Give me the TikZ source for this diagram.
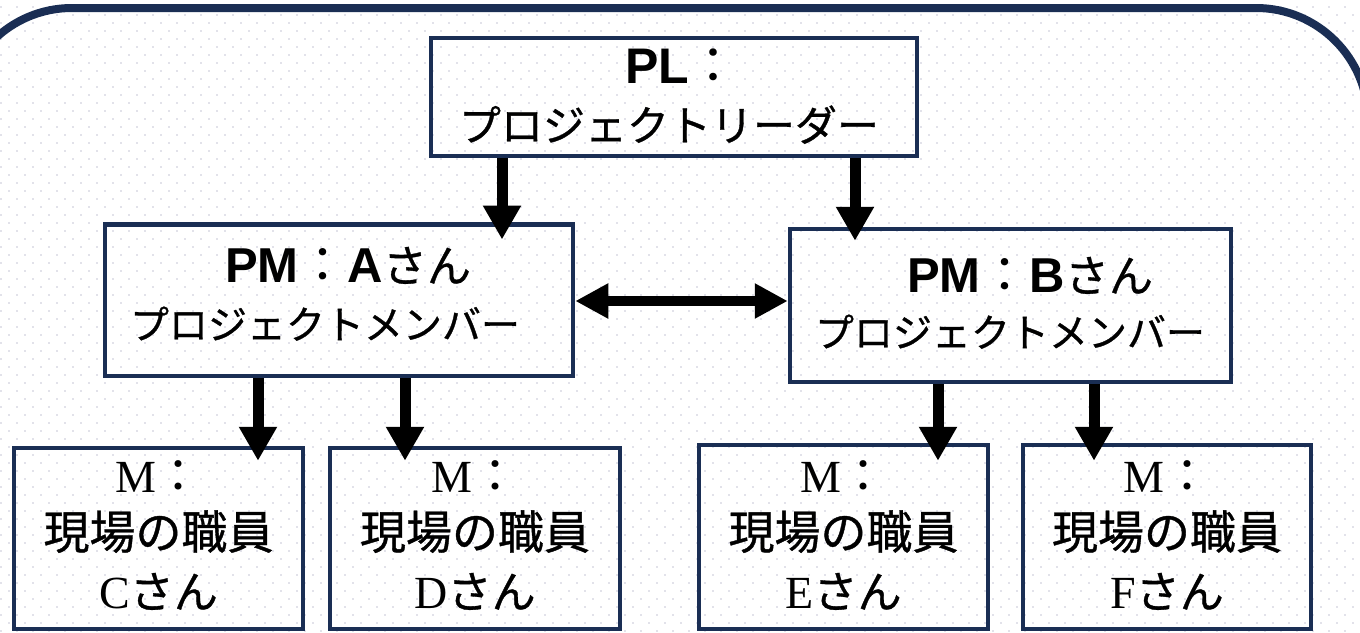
\documentclass[tikz,border=0pt]{standalone}
\usepackage{fontspec}
\usetikzlibrary{arrows.meta,calc}
\setmainfont{Liberation Serif}
\newfontfamily\lsans{Liberation Sans}
\newfontfamily\jpf{Noto Sans CJK JP}[FakeBold=0.8]
\newfontfamily\jpc{Noto Sans CJK JP}
\definecolor{navy}{HTML}{1A2E54}
\definecolor{dotc}{HTML}{E2E2EA}
\begin{document}
\begin{tikzpicture}[x=1pt,y=-1pt,
  box/.style={draw=navy, line width=4.5pt, rectangle, inner sep=0pt},
  lbl/.style={anchor=base, inner sep=0pt, text=black},
  arr/.style={line width=11pt, -{Triangle[length=34pt,width=36pt]}},
  darr/.style={line width=10pt, {Triangle[length=33pt,width=33pt]}-{Triangle[length=33pt,width=33pt]}}]
\useasboundingbox (0,0) rectangle (1360,632);
\clip (0,0) rectangle (1360,632);
% dotted background
\foreach \r in {0,...,79}{
  \pgfmathsetmacro\yy{8*\r+7}
  \pgfmathsetmacro\ph{mod(\r,2)*8}
  \draw[dotc, line width=2pt, dash pattern=on 2pt off 14pt, dash phase=\ph pt] (0,\yy) -- (1360,\yy);
}
% outer frame
\draw[navy, line width=8pt, rounded corners=112pt] (-40,8) rectangle (1368,780);
% boxes
\node[box, minimum width=486pt, minimum height=118pt] (pl) at (674,97) {};
\node[box, minimum width=468pt, minimum height=151.5pt] (pma) at (339,300) {};
\node[box, minimum width=441pt, minimum height=153pt] (pmb) at (1010.5,305.5) {};
\node[box, minimum width=289pt, minimum height=181pt] (mc) at (158.5,538.5) {};
\node[box, minimum width=290pt, minimum height=181pt] (md) at (475,538.5) {};
\node[box, minimum width=289pt, minimum height=184pt] (me) at (843.5,537) {};
\node[box, minimum width=288pt, minimum height=184pt] (mf) at (1167,537) {};
% texts
\node[lbl] (pl1) at (682,83) {\lsans\bfseries\fontsize{50}{60}\selectfont PL{\jpc\mdseries ：}};
\node[lbl] (pl2) at (669,141) {\jpf\fontsize{42}{50}\selectfont プロジェクトリーダー};
\node[lbl] (pma1) at (348,282) {\lsans\bfseries\fontsize{49}{58}\selectfont PM{\jpc\mdseries ：}A{\jpf\mdseries\fontsize{44}{52}\selectfont さん}};
\node[lbl] (pma2) at (325,339) {\jpf\fontsize{39}{47}\selectfont プロジェクトメンバー};
\node[lbl] (pmb1) at (1030,292) {\lsans\bfseries\fontsize{49}{58}\selectfont PM{\jpc\mdseries ：}B{\jpf\mdseries\fontsize{44}{52}\selectfont さん}};
\node[lbl] (pmb2) at (1010,347) {\jpf\fontsize{39}{47}\selectfont プロジェクトメンバー};
\foreach \n/\cx/\L in {c/158.5/C, d/475/D, e/843.5/E, f/1167/F}{
  \node[lbl] (m1\n) at (\cx,492) {\fontsize{46}{54}\selectfont M{\jpc ：}};
  \node[lbl] (m2\n) at (\cx,549) {\jpf\fontsize{46}{55}\selectfont 現場の職員};
  \node[lbl] (m3\n) at (\cx,608) {\fontsize{46}{54}\selectfont \L{\jpf\fontsize{44}{52}\selectfont さん}};
}
% connectors
\draw[arr] ($(pl.south)+(-172,0)$) -- ($(pma.north)+(163,17.5)$);
\draw[arr] ($(pl.south)+(181,0)$) -- ($(pmb.north)+(-155.5,14)$);
\draw[darr] ($(pma.east)+(0,1)$) -- ($(pmb.west)+(0,-4.5)$);
\draw[arr] ($(pma.south)+(-81,0)$) -- ($(mc.north)+(99.5,15)$);
\draw[arr] ($(pma.south)+(66,0)$) -- ($(md.north)+(-70,15)$);
\draw[arr] ($(pmb.south)+(-72.5,0)$) -- ($(me.north)+(94.5,18)$);
\draw[arr] ($(pmb.south)+(83.5,0)$) -- ($(mf.north)+(-73,18)$);
\end{tikzpicture}
\end{document}
